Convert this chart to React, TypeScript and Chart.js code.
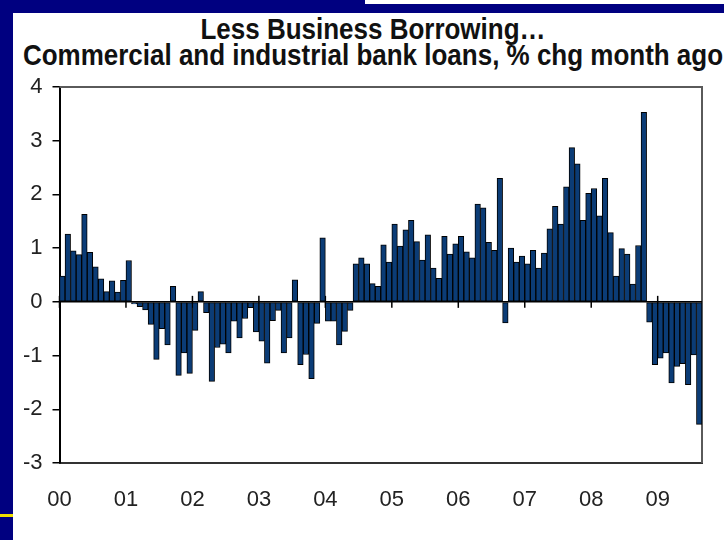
import React, { useEffect, useRef } from "react";
import { Chart, registerables } from "chart.js";

Chart.register(...registerables);

// ---- Data ----
const titleLines = ["Less Business Borrowing…", "Commercial and industrial bank loans, % chg month ago"];
const yearLabels = ["00", "01", "02", "03", "04", "05", "06", "07", "08", "09"];
const yTickValues = [-3, -2, -1, 0, 1, 2, 3, 4];
// monthly % change, Jan 2000 .. Aug 2009
const values2000 = [0.48, 1.26, 0.95, 0.88, 1.63, 0.92, 0.65, 0.43, 0.19, 0.39, 0.18, 0.4];
const values2001 = [0.77, -0.04, -0.09, -0.15, -0.42, -1.07, -0.5, -0.8, 0.29, -1.37, -0.95, -1.33];
const values2002 = [-0.53, 0.19, -0.2, -1.48, -0.85, -0.79, -0.95, -0.36, -0.67, -0.31, -0.11, -0.56];
const values2003 = [-0.73, -1.14, -0.35, -0.16, -0.95, -0.67, 0.41, -1.17, -0.98, -1.43, -0.4, 1.19];
const values2004 = [-0.36, -0.36, -0.8, -0.55, -0.16, 0.71, 0.82, 0.71, 0.34, 0.29, 1.06, 0.74];
const values2005 = [1.45, 1.04, 1.34, 1.52, 1.12, 0.78, 1.25, 0.63, 0.44, 1.22, 0.89, 1.08];
const values2006 = [1.22, 0.93, 0.82, 1.82, 1.75, 1.11, 0.96, 2.3, -0.39, 1.0, 0.74, 0.85];
const values2007 = [0.71, 0.96, 0.63, 0.91, 1.36, 1.78, 1.45, 2.14, 2.87, 2.57, 1.52, 2.02];
const values2008 = [2.11, 1.6, 2.3, 1.29, 0.48, 0.99, 0.89, 0.33, 1.05, 3.53, -0.38, -1.17];
const values2009 = [-1.05, -0.95, -1.51, -1.2, -1.15, -1.54, -0.99, -2.28];

const values = [
  ...values2000, ...values2001, ...values2002, ...values2003, ...values2004,
  ...values2005, ...values2006, ...values2007, ...values2008, ...values2009,
];

const NAVY = "#000080";
const FONT = "'Liberation Sans', Arial, sans-serif";

const framePlugin = {
  id: "frame",
  beforeDatasetsDraw(chart: any) {
    const { ctx, chartArea, scales } = chart;
    const x = scales.x;
    const y = scales.y;
    ctx.save();
    ctx.strokeStyle = "#5a5a5a";
    ctx.lineWidth = 2;
    ctx.beginPath();
    ctx.moveTo(chartArea.left, chartArea.top);
    ctx.lineTo(chartArea.right, chartArea.top);
    ctx.lineTo(chartArea.right, chartArea.bottom);
    ctx.stroke();
    const y0 = y.getPixelForValue(0);
    ctx.strokeStyle = "#000";
    ctx.lineWidth = 1.5;
    yearLabels.forEach((_, k) => {
      const px = x.getPixelForValue(k * 12);
      ctx.beginPath();
      ctx.moveTo(px, y0 - 6);
      ctx.lineTo(px, y0 + 6);
      ctx.stroke();
    });
    ctx.restore();
  },
  afterDatasetsDraw(chart: any) {
    const { ctx, chartArea, scales } = chart;
    const y0 = scales.y.getPixelForValue(0);
    ctx.save();
    ctx.strokeStyle = "#000";
    ctx.lineWidth = 1.5;
    ctx.beginPath();
    ctx.moveTo(chartArea.left, y0);
    ctx.lineTo(chartArea.right, y0);
    ctx.stroke();
    ctx.restore();
  },
};

function LoansChart() {
  const ref = useRef<HTMLCanvasElement | null>(null);
  useEffect(() => {
    if (!ref.current) return;
    const chart = new Chart(ref.current, {
      type: "bar",
      data: {
        datasets: [
          {
            data: values.map((v, i) => ({ x: i + 0.5, y: v })),
            backgroundColor: "#0b3c76",
            borderColor: "#000",
            borderWidth: 1,
            borderSkipped: false,
            barPercentage: 1,
            categoryPercentage: 1,
          },
        ],
      },
      options: {
        responsive: false,
        animation: false,
        layout: { padding: { top: 87, right: 22, left: 0, bottom: 0 } },
        plugins: {
          legend: { display: false },
          tooltip: { enabled: false },
          title: { display: false },
        },
        scales: {
          x: {
            type: "linear",
            min: 0,
            max: values.length,
            offset: false,
            afterFit(s: any) {
              s.height = 77;
            },
            afterBuildTicks(s: any) {
              s.ticks = yearLabels.map((_, k) => ({ value: k * 12 }));
            },
            grid: { offset: false, drawOnChartArea: false, drawTicks: false },
            border: { display: true, color: "#333", width: 2 },
            ticks: {
              autoSkip: false,
              maxRotation: 0,
              padding: 24,
              color: "#222",
              font: { family: FONT, size: 22 },
              callback: (v: any) => yearLabels[Math.round(Number(v) / 12)] ?? "",
            },
          },
          y: {
            type: "linear",
            min: -3,
            max: 4,
            afterFit(s: any) {
              s.width = 59.5;
            },
            afterBuildTicks(s: any) {
              s.ticks = yTickValues.map((v) => ({ value: v }));
            },
            grid: { drawOnChartArea: false, drawTicks: true, tickLength: 7, color: "#000", lineWidth: 1.5 },
            border: { display: true, color: "#000", width: 2 },
            ticks: {
              padding: 10,
              color: "#222",
              font: { family: FONT, size: 22 },
            },
          },
        },
      },
      plugins: [framePlugin],
    });
    return () => chart.destroy();
  }, []);
  return (
    <canvas
      ref={ref}
      width={724}
      height={540}
      style={{ position: "absolute", left: 0, top: 0, width: 724, height: 540 }}
    />
  );
}

export default function App() {
  return (
    <div style={{ position: "fixed", left: 0, top: 0, width: 724, height: 540, background: "#fff", overflow: "hidden" }}>
      <div style={{ position: "absolute", left: 0, top: 0, width: 13, height: 540, background: NAVY }} />
      <div style={{ position: "absolute", left: 0, top: 0, width: 365, height: 13, background: NAVY }} />
      <div style={{ position: "absolute", left: 365, top: 4, width: 359, height: 9, background: NAVY }} />
      <div style={{ position: "absolute", left: 0, top: 514, width: 13, height: 3, background: "#f0e000" }} />
      <div
        style={{
          position: "absolute",
          left: -227,
          top: 16,
          width: 1200,
          textAlign: "center",
          fontFamily: FONT,
          fontWeight: "bold",
          fontSize: 30,
          lineHeight: "26px",
          color: "#111",
          whiteSpace: "nowrap",
          transform: "scaleX(0.866)",
          transformOrigin: "600px 0",
        }}
      >
        <div>{titleLines[0]}</div>
        <div>{titleLines[1]}</div>
      </div>
      <LoansChart />
    </div>
  );
}
